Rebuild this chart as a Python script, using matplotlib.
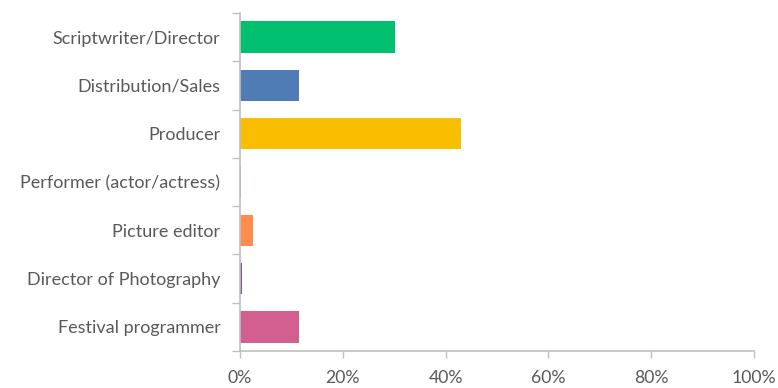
import matplotlib
matplotlib.use("Agg")
import matplotlib.pyplot as plt
import numpy as np

categories = [
    "Scriptwriter/Director",
    "Distribution/Sales",
    "Producer",
    "Performer (actor/actress)",
    "Picture editor",
    "Director of Photography",
    "Festival programmer",
]
shares = [30.1, 11.4, 43.0, 0.2, 2.5, 0.5, 11.5]
colors = ["#00BF6F", "#507CB6", "#F9BE00", "#6BC8CD", "#FF8B4F", "#7D5BA6", "#D25F90"]
x_ticks = [0, 20, 40, 60, 80, 100]
x_labels = ["0%", "20%", "40%", "60%", "80%", "100%"]

plt.rcParams["font.family"] = ["Lato", "DejaVu Sans"]
text_color = "#595959"
axis_color = "#BFBFBF"

fig = plt.figure(figsize=(7.78, 3.88), dpi=100)
ax = fig.add_axes([239.9 / 778, 1 - 351 / 388, (754 - 239.9) / 778, (351 - 13) / 388])

n = len(categories)
pos = np.arange(n)
ax.barh(pos, shares, height=0.65, color=colors, edgecolor="none")

ax.set_xlim(0, 100)
ax.set_ylim(n - 0.5, -0.5)

# Category labels centred on bars, tick marks on the boundaries between them
ax.set_yticks(np.arange(n + 1) - 0.5)
ax.set_yticklabels([])
ax.set_yticks(pos, minor=True)
ax.set_yticklabels(categories, minor=True, fontsize=13, color=text_color)
ax.tick_params(axis="y", which="minor", length=0, pad=14)
ax.tick_params(axis="y", which="major", length=6, width=1, color=axis_color, direction="out")

ax.set_xticks(x_ticks)
ax.set_xticklabels(x_labels, fontsize=12.7, color=text_color)
ax.tick_params(axis="x", length=5, width=1, color=axis_color, direction="out", pad=9)

for side in ("top", "right"):
    ax.spines[side].set_visible(False)
for side in ("left", "bottom"):
    ax.spines[side].set_color(axis_color)
    ax.spines[side].set_linewidth(1.2)

fig.savefig("out.png", dpi=100, facecolor="white")
